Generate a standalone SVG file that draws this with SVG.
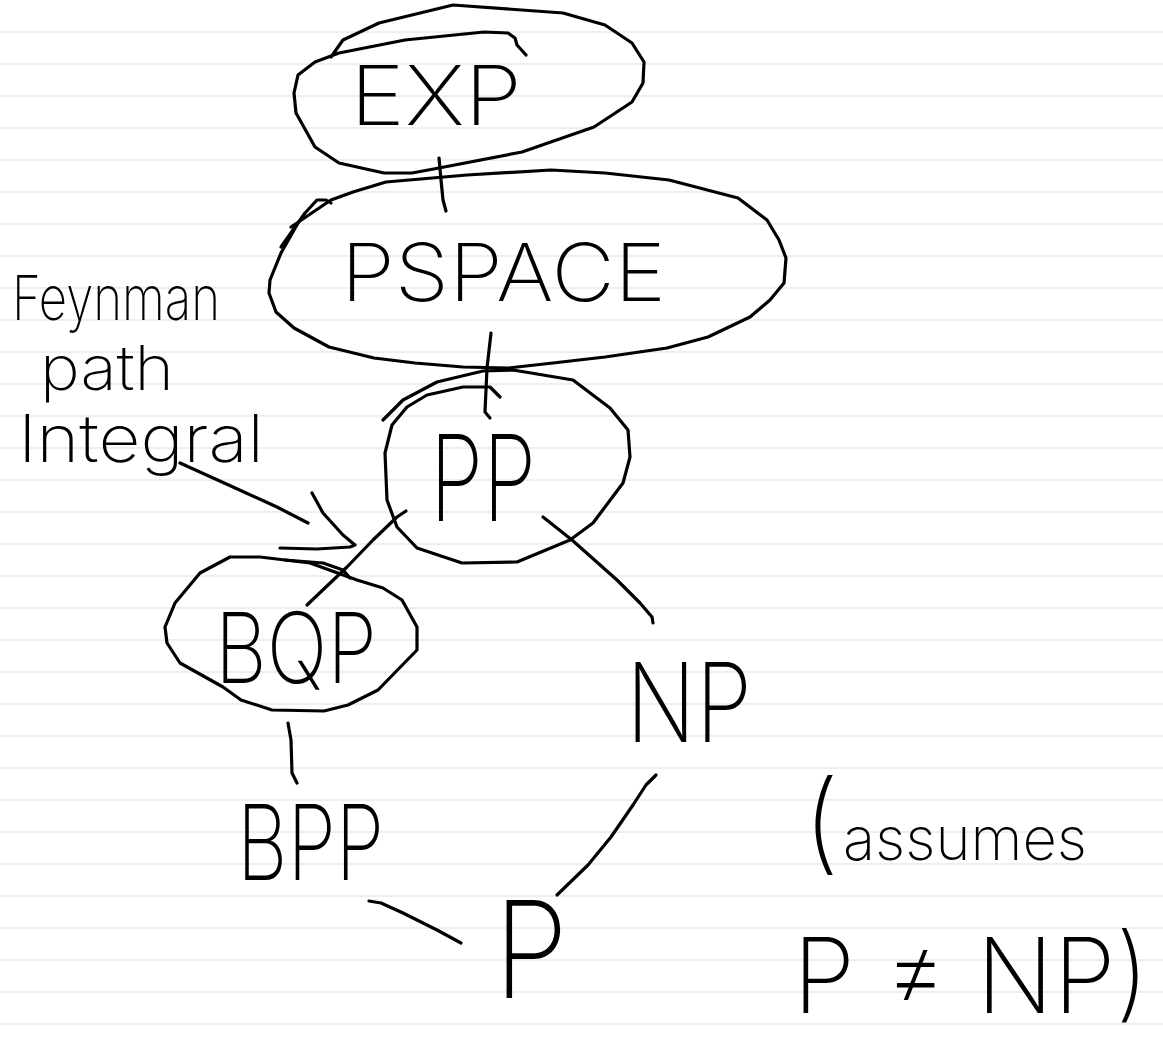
<svg xmlns="http://www.w3.org/2000/svg" width="1163" height="1045" viewBox="0 0 1163 1045">
<style>
.rule{stroke:#e6e6fa;stroke-width:1.6}
.ink{fill:none;stroke:#000;stroke-width:3.2;stroke-linecap:round;stroke-linejoin:round}
.hw{font-family:"Inter","Liberation Sans",sans-serif;font-weight:200;fill:#000}
</style>
<rect width="1163" height="1045" fill="#fff"/>
<g id="paper">
<path class="rule" d="M0 32H1163M0 64H1163M0 96H1163M0 128H1163M0 160H1163M0 192H1163M0 224H1163M0 256H1163M0 288H1163M0 320H1163M0 352H1163M0 384H1163M0 416H1163M0 448H1163M0 480H1163M0 512H1163M0 544H1163M0 576H1163M0 608H1163M0 640H1163M0 672H1163M0 704H1163M0 736H1163M0 768H1163M0 800H1163M0 832H1163M0 864H1163M0 896H1163M0 928H1163M0 960H1163M0 992H1163M0 1024H1163"/>
</g>
<g id="connectors">
<path class="ink" d="M439 158L441 180L443 200L446 211"/>
<path class="ink" d="M491 333L487 368L485 412L490 418"/>
<path class="ink" d="M406 511L397 517L373 540L347 567L307 605"/>
<path class="ink" d="M543 517L572 540L617 580L640 603L652 617L653 623"/>
<path class="ink" d="M288 723L291 740L292 773L297 783"/>
<path class="ink" d="M369 901L381 903L403 913L437 930L461 943"/>
<path class="ink" d="M656 775L646 785L633 805L611 837L588 865L557 895"/>
<path class="ink" d="M180 463L233 487L277 507L308 523"/>
<path class="ink" d="M312 493L323 513L343 535L355 545L350 547L317 549L280 548"/>
</g>
<g id="node-exp">
<path class="ink" d="M331 57L343 40L379 23L453 5L563 13L605 25L632 43L644 62L643 83L632 102L594 127L522 152L439 168L412 173L384 173L339 163L315 147L296 113L294 93L298 75L315 62L339 53L405 40L484 32L508 33L515 38L517 45L526 55"/>
<text class="hw" x="350" y="125" font-size="82" textLength="172" lengthAdjust="spacingAndGlyphs">EXP</text>
</g>
<g id="node-pspace">
<path class="ink" d="M281 247L305 213L317 200L326 200L331 203"/>
<path class="ink" d="M291 227L331 200L353 192L386 182L467 175L551 170L605 173L669 180L738 198L767 220L779 240L786 258L784 283L770 300L750 317L708 337L667 348L605 357L553 363L508 368L463 367L415 363L374 358L329 347L294 328L276 312L269 293L270 280L281 253L298 223"/>
<text class="hw" x="341" y="301" font-size="80" textLength="325" lengthAdjust="spacingAndGlyphs">PSPACE</text>
</g>
<g id="node-pp">
<path class="ink" d="M383 420L403 400L437 382L483 371L513 370L573 380L610 408L628 430L630 457L623 483L593 523L570 540L517 562L462 563L417 548L397 527L387 500L385 453L392 425L407 407L427 395L463 387L490 387L500 397"/>
<text class="hw" x="430" y="521" font-size="120" textLength="106" lengthAdjust="spacingAndGlyphs">PP</text>
</g>
<g id="node-feynman">
<text class="hw" font-size="62"><tspan x="12" y="320" textLength="208" lengthAdjust="spacingAndGlyphs">Feynman</tspan><tspan x="40" y="390" textLength="134" lengthAdjust="spacingAndGlyphs">path</tspan><tspan x="18" y="462" font-size="66" textLength="246" lengthAdjust="spacingAndGlyphs">Integral</tspan></text>
</g>
<g id="node-bqp">
<path class="ink" d="M230 557L200 573L175 603L165 627L167 643L180 663L223 687L241 700L272 710L324 711L348 705L378 690L417 650L417 627L402 600L383 588L357 580L310 563L260 557L230 557"/>
<path class="ink" d="M285 560L323 563L343 570L350 578"/>
<text class="hw" x="215" y="683" font-size="98" textLength="162" lengthAdjust="spacingAndGlyphs">BQP</text>
</g>
<g id="node-np">
<text class="hw" x="626" y="742" font-size="110" textLength="126" lengthAdjust="spacingAndGlyphs">NP</text>
</g>
<g id="node-bpp">
<text class="hw" x="237" y="880" font-size="105" textLength="147" lengthAdjust="spacingAndGlyphs">BPP</text>
</g>
<g id="node-p">
<text class="hw" x="494" y="998" font-size="135" textLength="74" lengthAdjust="spacingAndGlyphs">P</text>
</g>
<g id="note">
<text class="hw" y="860"><tspan x="803" font-size="110">(</tspan><tspan x="843" font-size="60" textLength="244" lengthAdjust="spacingAndGlyphs">assumes</tspan></text>
<text class="hw" x="793" y="1013" font-size="104" textLength="356" lengthAdjust="spacingAndGlyphs">P ≠ NP)</text>
</g>
</svg>
